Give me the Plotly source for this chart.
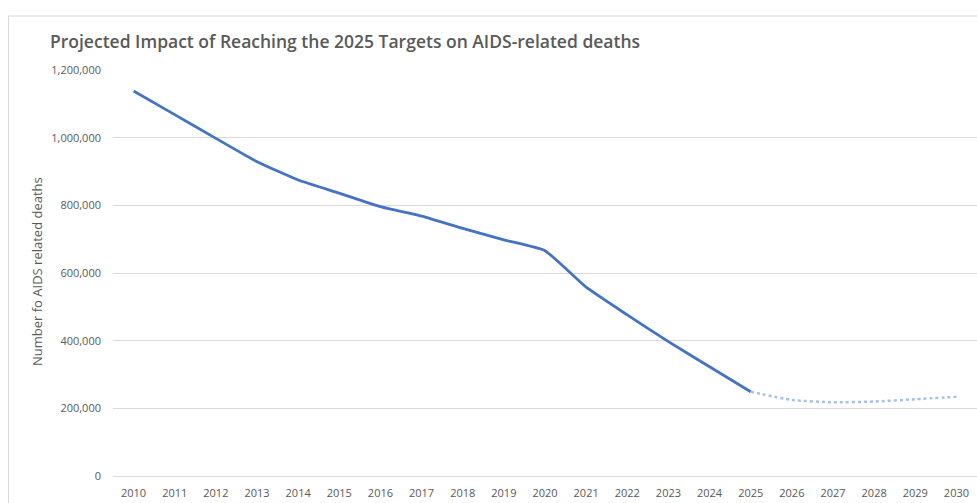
import plotly.graph_objects as go

# ── Data ───────────────────────────────────────────────────────────────────
years = [str(y) for y in range(2010, 2031)]
actual_years = years[:16]          # 2010-2025
projected_years = years[15:]       # 2025-2030
actual_deaths = [1138000, 1068000, 998000, 929000, 875000, 836000, 796000,
                 768000, 732000, 698000, 666000, 558000, 476000, 397000,
                 323000, 249000]
projected_deaths = [249000, 225000, 218000, 220000, 227000, 234000]
y_ticks = [0, 200000, 400000, 600000, 800000, 1000000, 1200000]

# ── Design tokens ──────────────────────────────────────────────────────────
C = {
    'line': '#4472C4',
    'proj': '#A9C0EA',
    'grid': '#D9D9D9',
    'text': '#595959',
    'border': '#D9D9D9',
}
FONT = 'Open Sans, Liberation Sans, sans-serif'

W, H = 977, 503
M = dict(l=113, r=0, t=70, b=27)
plot_w = W - M['l'] - M['r']
plot_h = H - M['t'] - M['b']

fig = go.Figure()

fig.add_trace(go.Scatter(
    x=actual_years, y=actual_deaths,
    mode='lines',
    line=dict(color=C['line'], width=2.75, shape='spline', smoothing=0.4),
    hovertemplate='%{x}<br>%{y:,}<extra></extra>',
))

fig.add_trace(go.Scatter(
    x=projected_years, y=projected_deaths,
    mode='lines',
    line=dict(color=C['proj'], width=2.5, dash='dot', shape='spline', smoothing=0.6),
    hovertemplate='%{x}<br>%{y:,}<extra></extra>',
))

# chart border (Excel chart area frame)
fig.add_shape(
    type='rect', xref='paper', yref='paper',
    x0=(8.5 - M['l']) / plot_w, x1=1.05,
    y0=-0.2, y1=(plot_h + M['t'] - 16) / plot_h,
    line=dict(color=C['border'], width=1),
    layer='below',
)

# rotated y-axis title
fig.add_annotation(
    text='Number fo AIDS related deaths',
    xref='paper', yref='paper',
    x=(37 - M['l']) / plot_w, y=(476 - 272) / plot_h,
    xanchor='center', yanchor='middle',
    textangle=-90, showarrow=False,
    font=dict(family=FONT, size=13, color=C['text']),
)

fig.update_layout(
    width=W, height=H,
    paper_bgcolor='white',
    plot_bgcolor='white',
    margin=M,
    showlegend=False,
    font=dict(family=FONT, color=C['text'], size=11),
    title=dict(
        text='Projected Impact of Reaching the 2025 Targets on AIDS-related deaths',
        font=dict(family=FONT, size=17.5, color=C['text'], weight=600),
        xref='container', yref='container',
        x=50 / W, xanchor='left',
        y=1 - 42 / H, yanchor='middle',
    ),
    xaxis=dict(
        type='category',
        range=[-0.5, 20.5],
        showgrid=False, zeroline=False, showline=False,
        ticks='', ticklabelstandoff=9,
        tickfont=dict(family=FONT, size=11, color=C['text']),
    ),
    yaxis=dict(
        range=[0, 1200000],
        tickvals=y_ticks,
        tickformat=',d',
        showgrid=True, gridcolor=C['grid'], gridwidth=1,
        zeroline=True, zerolinecolor=C['grid'], zerolinewidth=1,
        showline=False, ticks='', ticklabelstandoff=11,
        tickfont=dict(family=FONT, size=11, color=C['text']),
    ),
)

# drop the default 8px body margin so the figure sits at the window origin
fig.write_html(
    'out.html',
    config={'displayModeBar': False},
    post_script="document.body.style.margin='0';document.body.style.overflow='hidden';",
)
